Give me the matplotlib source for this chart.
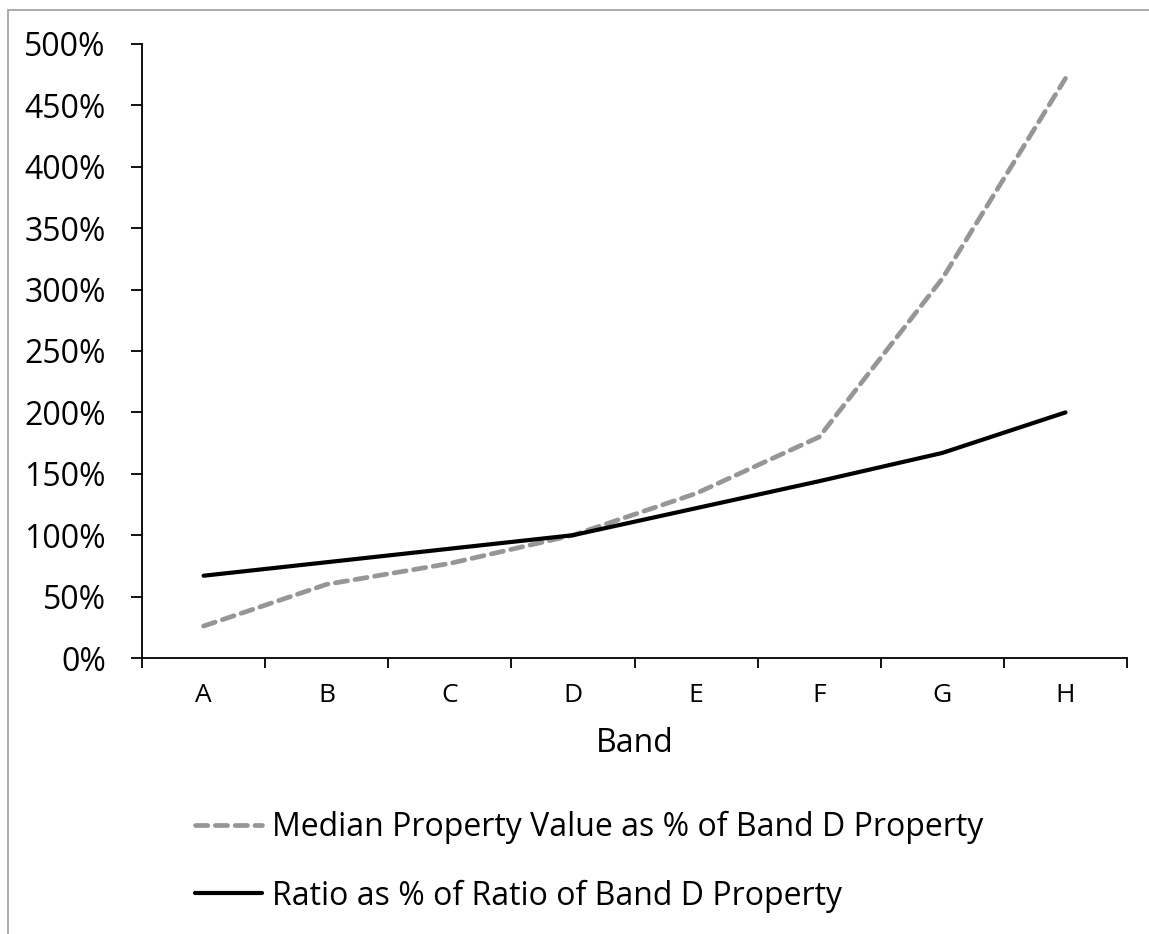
import matplotlib.pyplot as plt
from matplotlib.patches import Rectangle
from matplotlib.ticker import FixedLocator, PercentFormatter

bands = ['A', 'B', 'C', 'D', 'E', 'F', 'G', 'H']
median_value_pct = [26, 60, 77, 100, 134, 180, 309, 472]
ratio_pct = [67, 78, 89, 100, 122, 144, 167, 200]

label_median = 'Median Property Value as % of Band D Property'
label_ratio = 'Ratio as % of Ratio of Band D Property'

plt.rcParams['font.family'] = ['Open Sans', 'DejaVu Sans']

fig = plt.figure(figsize=(11.49, 9.34), dpi=100)
ax = fig.add_axes([0.1236, 0.2955, 0.8573, 0.6574])

x = list(range(len(bands)))
ax.plot(x, median_value_pct, color='#969696', linewidth=3.4,
        dashes=(2.6, 1.6), dash_capstyle='round', solid_capstyle='round',
        label=label_median)
ax.plot(x, ratio_pct, color='black', linewidth=3.0,
        solid_capstyle='round', label=label_ratio)

ax.set_xlim(-0.5, len(bands) - 0.5)
ax.set_ylim(0, 500)
ax.set_yticks(range(0, 501, 50))
ax.yaxis.set_major_formatter(PercentFormatter(decimals=0))
ax.tick_params(axis='y', length=8, width=1.3, pad=18, labelsize=23)

# category boundaries get the tick marks, centres get the labels
ax.xaxis.set_major_locator(FixedLocator([i - 0.5 for i in range(len(bands) + 1)]))
ax.xaxis.set_major_formatter(plt.NullFormatter())
ax.xaxis.set_minor_locator(FixedLocator(x))
ax.set_xticklabels(bands, minor=True)
ax.tick_params(axis='x', which='major', length=7, width=1.3)
ax.tick_params(axis='x', which='minor', length=0, pad=18, labelsize=19)
ax.set_xlabel('Band', fontsize=23, labelpad=14)

for side in ['top', 'right']:
    ax.spines[side].set_visible(False)
for side in ['left', 'bottom']:
    ax.spines[side].set_linewidth(1.3)

fig.legend(loc='upper left', bbox_to_anchor=(195 / 1149, 1 - 811 / 934),
           frameon=False, fontsize=23, handlelength=2.1, handletextpad=0.3,
           labelspacing=1.1, borderpad=0, borderaxespad=0)

fig.patches.append(Rectangle((8 / 1149, -0.1), 1.2, 1 - 10 / 934 + 0.1,
                             transform=fig.transFigure, fill=False,
                             edgecolor='#a6a6a6', linewidth=1.3))

fig.savefig('out.png', dpi=100)
